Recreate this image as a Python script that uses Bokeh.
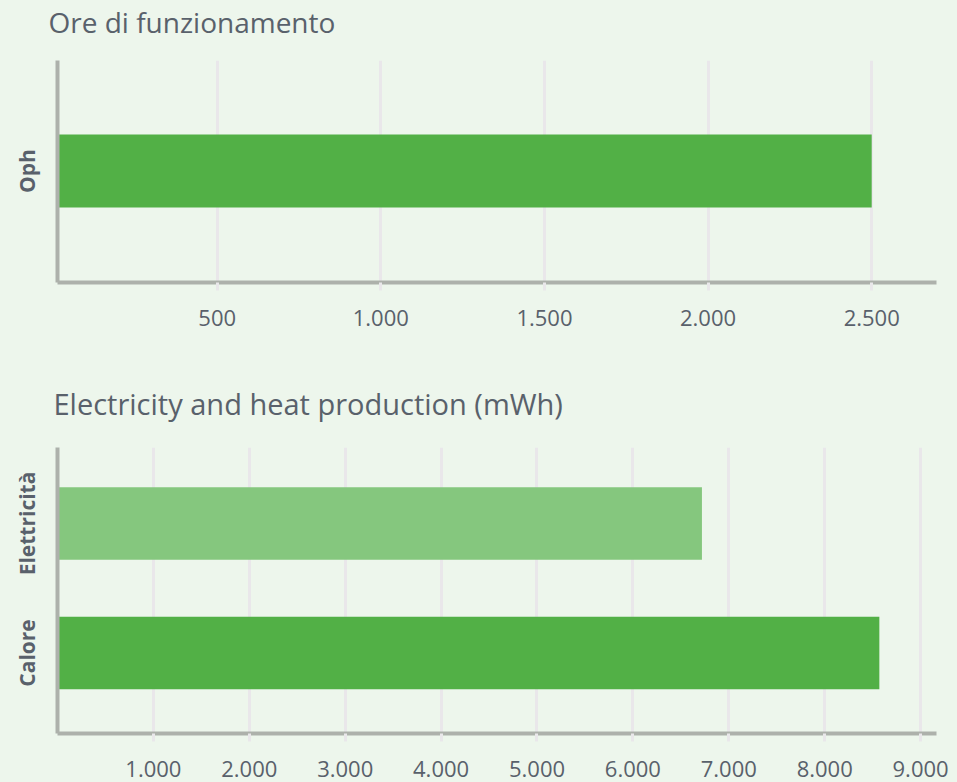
from bokeh.plotting import figure
from bokeh.layouts import column
from bokeh.models import Range1d, FixedTicker, ColumnDataSource
from bokeh.core.properties import value
from bokeh.embed import file_html
from bokeh.resources import INLINE

# ---- data ----
hours_title = "Ore di funzionamento"
hours_categories = ["Oph"]
hours_values = [2500]
hours_ticks = [500, 1000, 1500, 2000, 2500]

prod_title = "Electricity and heat production (mWh)"
prod_categories = ["Calore", "Elettricità"]   # bottom to top
prod_values = [8570, 6720]
prod_colors = ["#52B046", "#85C77E"]
prod_ticks = [1000, 2000, 3000, 4000, 5000, 6000, 7000, 8000, 9000]

BG = "#EDF6EC"
TXT = "#59616B"
AXIS = "#ADB1AB"
GRID = "#E9E7EA"
FONT = "Open Sans"
W = 957


def fmt(t):
    return f"{t:,}".replace(",", ".")


def title_fig(text, h, tx, ty, size):
    t = figure(width=W, height=h, output_backend="svg", toolbar_location=None,
               x_range=Range1d(0, W), y_range=Range1d(h, 0),
               x_axis_location=None, y_axis_location=None,
               min_border=0, min_border_left=0, min_border_right=0,
               min_border_top=0, min_border_bottom=0, frame_align=False)
    t.background_fill_color = BG
    t.border_fill_color = BG
    t.outline_line_color = None
    t.grid.grid_line_color = None
    t.text(x=[tx], y=[ty], text=[text], text_font=value(FONT), text_font_size=size,
           text_color=TXT, text_baseline="middle", text_align="left")
    return t


def style(p, ticks, cats):
    p.background_fill_color = BG
    p.border_fill_color = BG
    p.outline_line_color = None
    p.ygrid.grid_line_color = None
    p.xgrid.grid_line_color = GRID
    p.xgrid.grid_line_width = 3
    p.xgrid.ticker = FixedTicker(ticks=ticks)

    xa = p.xaxis[0]
    xa.ticker = FixedTicker(ticks=ticks)
    xa.major_label_overrides = {t: fmt(t) for t in ticks}
    xa.axis_line_color = AXIS
    xa.axis_line_width = 4
    xa.major_tick_line_color = GRID
    xa.major_tick_line_width = 3
    xa.major_tick_out = 8
    xa.major_tick_in = 0
    xa.minor_tick_line_color = None
    xa.major_label_text_font = FONT
    xa.major_label_text_font_size = "22px"
    xa.major_label_text_color = TXT
    xa.major_label_standoff = 19

    ya = p.yaxis[0]
    ya.ticker = FixedTicker(ticks=list(range(len(cats))))
    ya.major_label_overrides = {i: c for i, c in enumerate(cats)}
    ya.axis_line_color = AXIS
    ya.axis_line_width = 4
    ya.major_tick_line_color = None
    ya.minor_tick_line_color = None
    ya.major_tick_out = 0
    ya.major_label_orientation = "vertical"
    ya.major_label_text_font = FONT
    ya.major_label_text_font_size = "21px"
    ya.major_label_text_font_style = "bold"
    ya.major_label_text_color = TXT
    ya.major_label_standoff = 16


# ---- top chart ----
t1 = title_fig(hours_title, 46, 48, 21, "28px")
p1 = figure(width=W, height=319, output_backend="svg", toolbar_location=None,
            x_range=Range1d(12, 2698), y_range=Range1d(-1.527, 1.514), frame_align=False,
            min_border_left=57, min_border_right=W - 936, min_border_top=14, min_border_bottom=83)
src1 = ColumnDataSource(dict(y=list(range(len(hours_categories))), v=hours_values))
p1.hbar(y="y", right="v", left=0, height=1.0, source=src1, color="#52B046", line_color=None)
style(p1, hours_ticks, hours_categories)

# ---- bottom chart ----
t2 = title_fig(prod_title, 65, 53, 38, "29px")
p2 = figure(width=W, height=352, output_backend="svg", toolbar_location=None,
            x_range=Range1d(0, 9166), y_range=Range1d(-0.622, 1.587), frame_align=False,
            min_border_left=57, min_border_right=W - 936, min_border_top=17, min_border_bottom=49)
src2 = ColumnDataSource(dict(y=list(range(len(prod_categories))), v=prod_values, c=prod_colors))
p2.hbar(y="y", right="v", left=0, height=0.56, source=src2, color="c", line_color=None)
style(p2, prod_ticks, prod_categories)

layout = column(t1, p1, t2, p2, spacing=0, styles={"background-color": BG})
open("out.html", "w").write(file_html(layout, INLINE))
